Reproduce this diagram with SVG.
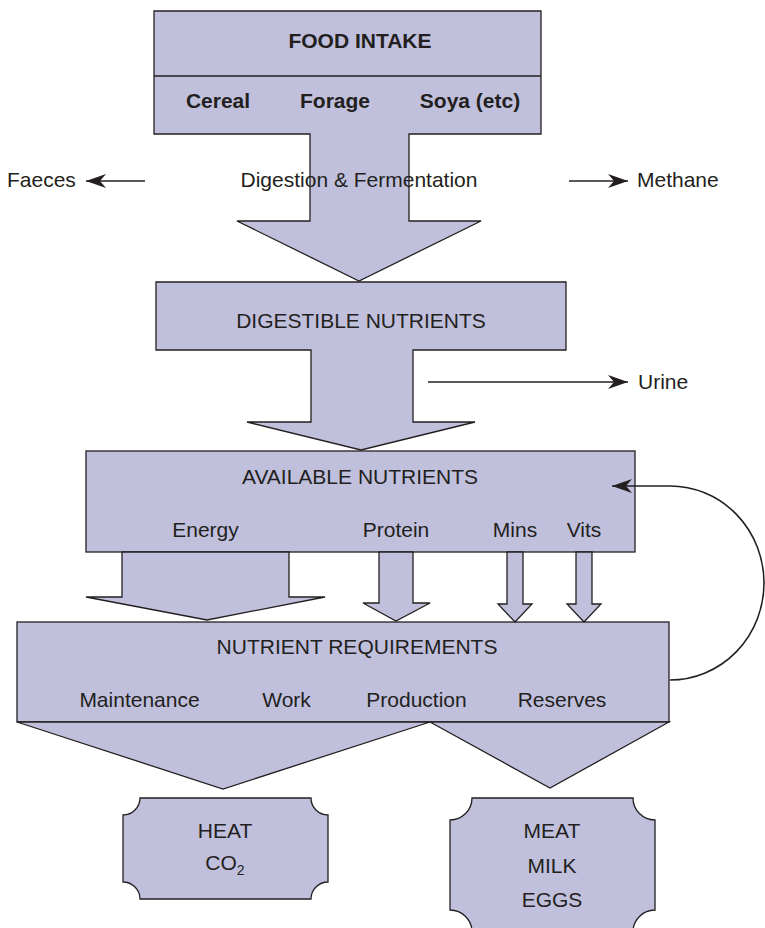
<svg xmlns="http://www.w3.org/2000/svg" width="765" height="928" viewBox="0 0 765 928">
<defs>
<style>
.shape{fill:#c0c0dd;stroke:#231f20;stroke-width:1.3;stroke-linejoin:miter}
.t{font-family:"Liberation Sans",Arial,sans-serif;font-size:21px;fill:#231f20}
.b{font-weight:bold}
.m{text-anchor:middle}
.ln{fill:none;stroke:#231f20;stroke-width:1.6}
</style>
<marker id="ah" markerUnits="userSpaceOnUse" markerWidth="22" markerHeight="16" viewBox="0 -8 21 16" refX="20" refY="0" orient="auto">
<path d="M0,-7 L20,0 L0,7 L6,0 Z" fill="#231f20"/>
</marker>
</defs>
<rect width="765" height="928" fill="#ffffff"/>

<g id="food-intake">
<path class="shape" d="M154,11 H541 V134 H409 V221 H481 L359,281 L237,221 H310 V134 H154 Z"/>
<line x1="154" y1="76" x2="541" y2="76" stroke="#231f20" stroke-width="1.3"/>
<text class="t b m" x="360" y="48">FOOD INTAKE</text>
<text class="t b m" x="218" y="108">Cereal</text>
<text class="t b m" x="335" y="108">Forage</text>
<text class="t b m" x="470" y="108">Soya (etc)</text>
<text class="t m" x="359" y="187">Digestion &amp; Fermentation</text>
</g>

<g id="digestible-nutrients">
<path class="shape" d="M156,282 H566 V350 H413 V422 H475 L361,450 L247,422 H311 V350 H156 Z"/>
<text class="t m" x="361" y="328">DIGESTIBLE NUTRIENTS</text>
</g>

<g id="available-nutrients">
<rect class="shape" x="86" y="451" width="549" height="101"/>
<text class="t m" x="360" y="484">AVAILABLE NUTRIENTS</text>
<text class="t m" x="205.5" y="537">Energy</text>
<text class="t m" x="396" y="537">Protein</text>
<text class="t m" x="515" y="537">Mins</text>
<text class="t m" x="584" y="537">Vits</text>
</g>

<g id="nutrient-requirements">
<rect class="shape" x="17" y="622" width="652" height="100"/>
<text class="t m" x="357" y="654">NUTRIENT REQUIREMENTS</text>
<text class="t m" x="139.5" y="707">Maintenance</text>
<text class="t m" x="286.5" y="707">Work</text>
<text class="t m" x="416.5" y="707">Production</text>
<text class="t m" x="562" y="707">Reserves</text>
</g>

<g id="heat">
<path class="shape" d="M140,798 H311 A17,17 0 0 0 328,815 V882 A17,17 0 0 0 311,899 H140 A17,17 0 0 0 123,882 V815 A17,17 0 0 0 140,798 Z"/>
<text class="t m" x="225" y="838">HEAT</text>
<text class="t m" x="225" y="870">CO<tspan font-size="14" dy="5">2</tspan></text>
</g>

<g id="meat">
<path class="shape" d="M472,798 H633 A22,22 0 0 0 655,820 V910 A22,22 0 0 0 633,932 H472 A22,22 0 0 0 450,910 V820 A22,22 0 0 0 472,798 Z"/>
<text class="t m" x="552" y="838">MEAT</text>
<text class="t m" x="552" y="873">MILK</text>
<text class="t m" x="552" y="907">EGGS</text>
</g>

<g id="connectors">
<path class="shape" d="M122,552 H289 V597 H325 L207,620 L86,597 H122 Z"/>
<path class="shape" d="M379,552 H413 V603 H430 L396,621 L363,603 H379 Z"/>
<path class="shape" d="M507,552 H523 V604 H532 L515,622 L498,604 H507 Z"/>
<path class="shape" d="M576,552 H592 V604 H601 L584,622 L567,604 H576 Z"/>
<path class="shape" d="M17,722 L430,722 L223,789 Z"/>
<path class="shape" d="M430,722 L669,722 L550,788 Z"/>
<line class="ln" x1="145" y1="181" x2="86" y2="181" marker-end="url(#ah)"/>
<line class="ln" x1="569" y1="181" x2="628" y2="181" marker-end="url(#ah)"/>
<line class="ln" x1="428" y1="382" x2="628" y2="382" marker-end="url(#ah)"/>
<path class="ln" d="M670,680 A94,97 0 0 0 670,486 H612" marker-end="url(#ah)"/>
</g>

<g id="labels">
<text class="t" x="7" y="187">Faeces</text>
<text class="t" x="637" y="187">Methane</text>
<text class="t" x="638" y="389">Urine</text>
</g>
</svg>
